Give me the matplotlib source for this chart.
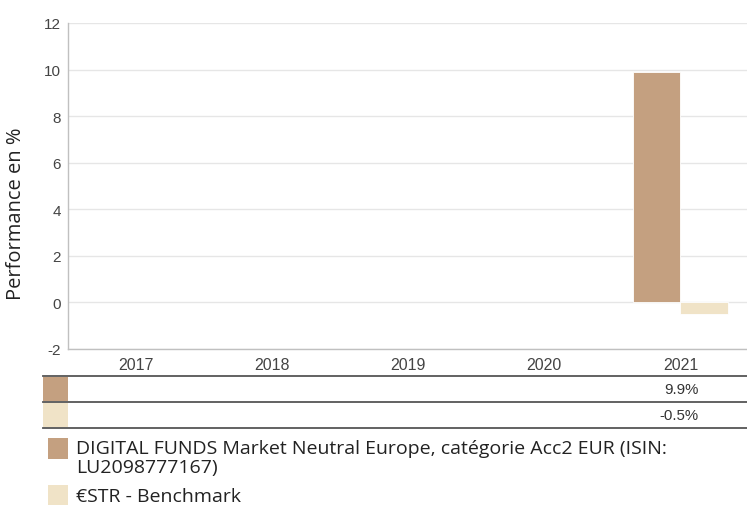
import matplotlib
matplotlib.use("Agg")
import matplotlib.pyplot as plt
from matplotlib.patches import Rectangle
from matplotlib.lines import Line2D
import numpy as np

plt.rcParams["axes.unicode_minus"] = False

# ---------------------------------------------------------------------------
# Data
# ---------------------------------------------------------------------------
years = ["2017", "2018", "2019", "2020", "2021"]
fund_perf = [np.nan, np.nan, np.nan, np.nan, 9.9]
bench_perf = [np.nan, np.nan, np.nan, np.nan, -0.5]
series_names = [
    "DIGITAL FUNDS Market Neutral Europe, catégorie Acc2 EUR (ISIN:\nLU2098777167)",
    "€STR - Benchmark",
]
y_label = "Performance en %"

colors = ["#C4A080", "#F0E3C7"]
W, H = 747, 506


def fx(px):
    return px / W


def fy(py):
    return 1 - py / H


fig = plt.figure(figsize=(W / 100, H / 100), dpi=100)
fig.patch.set_facecolor("white")

# ------------------------------------------------------------------ main axes
ax = fig.add_axes([fx(68), fy(350), fx(748.5 - 68), (350 - 24) / H])
x = np.arange(len(years))
bw = 0.347
ax.bar(x - bw / 2, fund_perf, bw, color=colors[0], edgecolor="white", linewidth=0.6, zorder=3)
ax.bar(x + bw / 2, bench_perf, bw, color=colors[1], edgecolor="white", linewidth=0.6, zorder=3)

ax.set_xlim(-0.5, len(years) - 0.5)
ax.set_ylim(-2, 12)
ax.set_yticks(range(-2, 13, 2))
ax.set_xticks(x)
ax.set_xticklabels(years)
ax.grid(axis="y", color="#E6E6E6", linewidth=1.0, zorder=0)
ax.set_axisbelow(True)
for s in ("top", "right"):
    ax.spines[s].set_visible(False)
for s in ("left", "bottom"):
    ax.spines[s].set_color("#C0C0C0")
    ax.spines[s].set_linewidth(1.0)
ax.tick_params(axis="y", length=0, labelsize=11, labelcolor="#444444", pad=5)
ax.tick_params(axis="x", length=0, labelsize=11.5, labelcolor="#444444", pad=6)
for lbl in ax.get_xticklabels() + ax.get_yticklabels():
    lbl.set_family("Liberation Sans")

fig.text(fx(16), fy(214), y_label, rotation=90, ha="center", va="center",
         fontsize=14.5, family="Open Sans", color="#222222")

# ------------------------------------------------------------------ table below
row_lines = [377, 403, 429]
for yy in row_lines:
    fig.add_artist(Line2D([fx(43), fx(747)], [fy(yy), fy(yy)], color="#555555", linewidth=1.3))

tbl_trans = matplotlib.transforms.blended_transform_factory(ax.transData, fig.transFigure)
for r, (vals, col) in enumerate(zip([fund_perf, bench_perf], colors)):
    top, bot = row_lines[r], row_lines[r + 1]
    fig.add_artist(Rectangle((fx(43), fy(bot - 1)), fx(25), (bot - top - 1.5) / H,
                             facecolor=col, edgecolor="none"))
    for i, v in enumerate(vals):
        if not np.isnan(v):
            fig.text(i + 0.135, fy((top + bot) / 2), f"{v:.1f}%", transform=tbl_trans,
                     ha="right", va="center", fontsize=10.8, family="Liberation Sans",
                     color="#333333")

# ------------------------------------------------------------------ legend
legend_rows = [(439, 440), (486, 497)]
for (sw_top, ty), name, col in zip(legend_rows, series_names, colors):
    fig.add_artist(Rectangle((fx(48), fy(sw_top + 21)), fx(20), 21 / H,
                             facecolor=col, edgecolor="none"))
    fig.text(fx(76), fy(ty), name, ha="left", va="top" if "\n" in name else "center",
             fontsize=14, family="Open Sans", color="#222222", linespacing=1.1)

fig.savefig("out.png", dpi=100)
